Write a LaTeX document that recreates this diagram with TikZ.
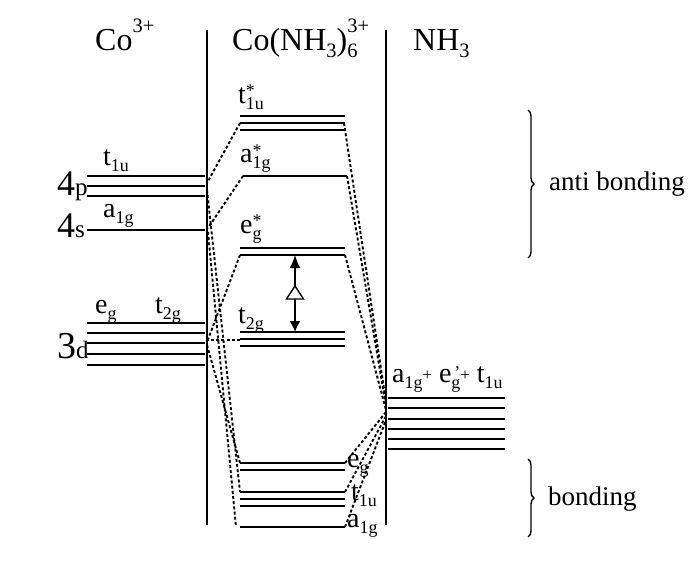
\documentclass[tikz,border=0pt]{standalone}
\usepackage{fontspec}
\usepackage{graphicx}
\setmainfont{Liberation Serif}
\usetikzlibrary{arrows.meta,decorations.pathreplacing}
\newcommand{\lo}[1]{\raisebox{-0.24em}{\scalebox{0.64}{#1}}}
\newcommand{\hi}[2][0.55em]{\raisebox{#1}{\scalebox{0.64}{#2}}}
\newcommand{\lohi}[3][0.55em]{\rlap{\lo{#2}}\hi[#1]{#3}}
\begin{document}
\begin{tikzpicture}[x=1pt,y=-1pt,
  lvl/.style={line width=1.9pt},
  dsh/.style={line width=1.9pt,dash pattern=on 3pt off 2.2pt},
  divider/.style={line width=1.5pt},
  lab/.style={anchor=base west,inner sep=0pt,font=\fontsize{28}{30}\selectfont},
  side/.style={anchor=base west,inner sep=0pt,font=\fontsize{27}{30}\selectfont},
  ttl/.style={anchor=base west,inner sep=0pt,font=\fontsize{32}{34}\selectfont},
  brc/.style={decorate,decoration={brace,amplitude=6pt},line width=1.4pt}]
\useasboundingbox (0,0) rectangle (699,562);
% titles
\node[ttl] (tco) at (95,50) {Co\hi{3+}};
\node[ttl] (tcx) at (232,50) {Co(NH\lo{3})\lohi{6}{3+}};
\node[ttl] (tnh) at (413,50) {NH\lo{3}};
% dividers
\coordinate (d1t) at (207,30); \coordinate (d1b) at (207,525);
\coordinate (d2t) at (386,30); \coordinate (d2b) at (386,525);
\draw[divider] (d1t) -- (d1b);
\draw[divider] (d2t) -- (d2b);
% Co levels
\foreach \y in {176,186,196,230,323,333,343,354,365}
  \draw[lvl] (87,\y) -- (205,\y);
\node[inner sep=0pt,anchor=base west] (l4p) at (57,195) {\fontsize{36}{36}\selectfont 4\fontsize{25}{25}\selectfont p};
\node[inner sep=0pt,anchor=base west] (l4s) at (57,237) {\fontsize{36}{36}\selectfont 4\fontsize{25}{25}\selectfont s};
\node[inner sep=0pt,anchor=base west] (l3d) at (57,358) {\fontsize{38}{38}\selectfont 3\fontsize{25}{25}\selectfont d};
\node[lab] (lt1u) at (103,165) {t\lo{1u}};
\node[lab] (la1g) at (103,217) {a\lo{1g}};
\node[lab] (leg) at (95,313) {e\lo{g}};
\node[lab] (lt2g) at (155,313) {t\lo{2g}};
% complex levels
\foreach \y in {116,123,130,248,255,332,339,346,463,470,492,499,506,527}
  \draw[lvl] (240,\y) -- (345,\y);
\draw[lvl] (243,176) -- (347,176);
\node[lab] (mt1u) at (238,103) {t\lohi[0.24em]{1u}{*}};
\node[lab] (ma1g) at (240,162) {a\lohi[0.2em]{1g}{*}};
\node[lab] (meg) at (240,233) {e\lohi[0.22em]{g}{*}};
\node[lab] (mt2g) at (238,323) {t\lo{2g}};
\node[lab] (beg) at (347,467) {e\lo{g}};
\node[lab] (bt1u) at (351,500) {t\lo{1u}};
\node[lab] (ba1g) at (347,527) {a\lo{1g}};
% NH3 levels
\foreach \y in {398,408,419,429,439,449}
  \draw[lvl] (388,\y) -- (505,\y);
\node[lab] (nlab) at (392,382) {a\lo{1g}\raisebox{0.05em}{\scalebox{0.6}{+}} e\lohi[0.12em]{g}{\,'}\raisebox{0.05em}{\scalebox{0.6}{+}} t\lo{1u}};
% connector coordinates
\coordinate (c4p1) at (207,183);
\coordinate (c4p2) at (207,190);
\coordinate (c4s1) at (208,228);
\coordinate (c4s2) at (208,232);
\coordinate (c3d1) at (207,342);
\coordinate (c3d2) at (207,340);
\coordinate (c3d3) at (207,345);
\coordinate (mt1uL) at (240,123); \coordinate (mt1uR) at (344,123);
\coordinate (ma1gL) at (243,176); \coordinate (ma1gR) at (347,176);
\coordinate (megL) at (240,255);  \coordinate (megR) at (345,255);
\coordinate (mt2gL) at (240,340);
\coordinate (begL) at (240,463);  \coordinate (begR) at (345,463);
\coordinate (bt1uL) at (240,492); \coordinate (bt1uR) at (345,492);
\coordinate (ba1gL) at (236,527); \coordinate (ba1gR) at (345,527);
\coordinate (n1) at (386,402); \coordinate (n2) at (386,406);
\coordinate (n3) at (386,410); \coordinate (n4) at (386,412);
\coordinate (n5) at (386,416); \coordinate (n6) at (386,420);
% dashed connectors
\draw[dsh] (mt1uL) -- (c4p1);
\draw[dsh] (ma1gL) -- (c4s1);
\draw[dsh] (megL) -- (c3d1);
\draw[dsh] (mt2gL) -- (c3d2);
\draw[dsh] (c4p2) -- (bt1uL);
\draw[dsh] (c4s2) -- (ba1gL);
\draw[dsh] (c3d3) -- (begL);
\draw[dsh] (mt1uR) -- (n1);
\draw[dsh] (ma1gR) -- (n2);
\draw[dsh] (megR) -- (n3);
\draw[dsh] (begR) -- (n4);
\draw[dsh] (bt1uR) -- (n5);
\draw[dsh] (ba1gR) -- (n6);
% splitting arrow
\coordinate (atop) at (295,255);
\coordinate (abot) at (295,332);
\draw[line width=1.6pt,{Latex[length=13pt,width=11pt]}-{Latex[length=11pt,width=11pt]}] (atop) -- (abot);
\draw[line width=1.4pt,fill=white] (295,286) -- (303.5,299) -- (286.5,299) -- cycle;
% braces
\coordinate (b1t) at (528,110); \coordinate (b1b) at (528,258);
\coordinate (b2t) at (528,459); \coordinate (b2b) at (528,537);
\draw[brc] (b1t) -- (b1b);
\draw[brc] (b2t) -- (b2b);
\node[side] (tanti) at (549,190) {anti bonding};
\node[side] (tbond) at (548,505) {bonding};
\end{tikzpicture}
\end{document}
